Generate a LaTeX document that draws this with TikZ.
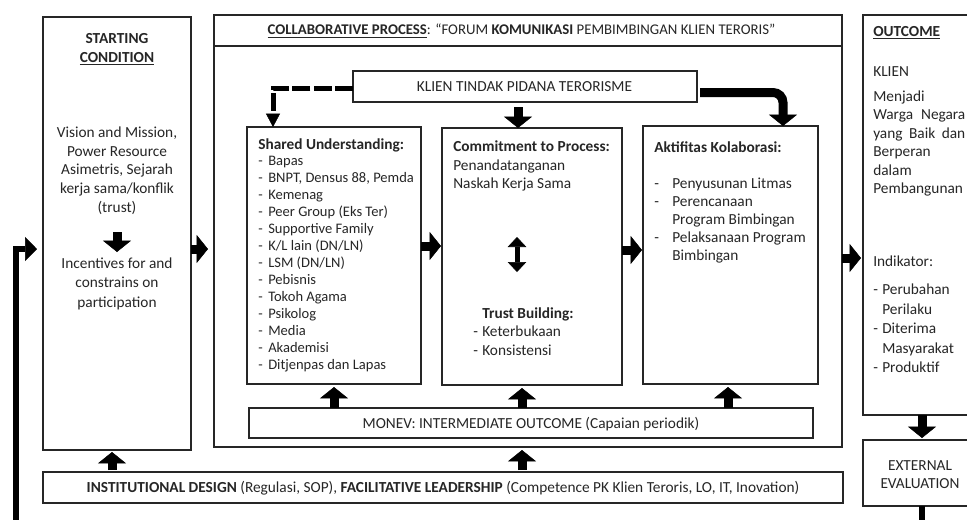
\documentclass[tikz,border=0pt]{standalone}
\usepackage{fontspec}
\setmainfont{Carlito}
\usetikzlibrary{arrows.meta,fit}
\newcommand{\fs}[1]{\fontsize{11.5}{#1}\selectfont}
\newcommand{\dsh}{\makebox[6.75pt][l]{-}}
\newcommand{\sdsh}{\makebox[7.5pt][l]{-}}
\newcommand{\tdsh}{\makebox[13.5pt][l]{-}}
\tikzset{
	box/.style={draw=black!85, line width=1.1pt, inner sep=0pt, outer sep=0pt},
	txt/.style={inner sep=0pt, text=black!85, font=\fs{13}},
	blk/.style={line width=6.75pt, -{Triangle[width=21pt,length=8.5pt,line width=0.4pt]}},
	dbl/.style={line width=3.75pt, {Triangle[width=14pt,length=7.5pt,line width=0.4pt]}-{Triangle[width=14pt,length=7.5pt,line width=0.4pt]}},
	dashblk/.style={line width=3.75pt, dash pattern=on 13.5pt off 2.5pt, -{Triangle[width=10.5pt,length=10pt,line width=0.4pt]}},
	fb/.style={line width=4.5pt}
}
\begin{document}
\begin{tikzpicture}[x=0.75pt,y=-0.75pt]
	\useasboundingbox (0,0) rectangle (967,519);
	\clip (0,0) rectangle (967,519);
	\fill[white] (0,0) rectangle (967,519);
	\node[box,fit={(43,17) (191,450)}] (start) {};
	\node[box,fit={(214,15) (842,447)}] (collab) {};
	\node[box,fit={(214,15) (842,46)}] (chead) {};
	\node[box,fit={(353,71) (697,102)}] (klien) {};
	\node[box,fit={(247,127) (421,384)}] (shared) {};
	\node[box,fit={(442,128) (622,385)}] (commit) {};
	\node[box,fit={(643,126) (818,384)}] (aktif) {};
	\node[box,fit={(249,408) (813,438)}] (monev) {};
	\node[box,fit={(43,472) (843,503)}] (inst) {};
	\node[box,fit={(863,15) (990,415)}] (outcome) {};
	\node[box,fit={(863,440) (990,506)}] (exteval) {};

	\node[txt,anchor=north,align=center,font={\fs{13.8}\bfseries}] (sctitle) at (117,33.5) {STARTING\\\underline{CONDITION}};
	\node[txt,anchor=north,align=center,font=\fs{14}] (scdesc) at (117,126.5) {Vision and Mission,\\Power Resource\\Asimetris, Sejarah\\kerja sama/konflik\\(trust)};
	\node[txt,anchor=north,align=center,font=\fs{14.6}] (scinc) at (117,257.5) {Incentives for and\\constrains on\\participation};
	\coordinate (scA) at (117,232);
	\coordinate (scB) at (117,252);

	\node[txt,font=\fontsize{11.1}{13}\selectfont] (chtitle) at (521.5,31) {\underline{\textbf{COLLABORATIVE PROCESS}}: “FORUM \textbf{KOMUNIKASI} PEMBIMBINGAN KLIEN TERORIS”};
	\node[txt] (kltxt) at (524.5,86.5) {KLIEN TINDAK PIDANA TERORISME};
	\node[txt,anchor=north west,align=left,font=\fontsize{10.9}{12.8}\selectfont] (sharedtxt) at (258,138.5) {{\fs{12.8}\textbf{Shared Understanding:}}\\[-1.2pt]
		\sdsh Bapas\\\sdsh BNPT, Densus 88, Pemda\\\sdsh Kemenag\\\sdsh Peer Group (Eks Ter)\\\sdsh Supportive Family\\
		\sdsh K/L lain (DN/LN)\\\sdsh LSM (DN/LN)\\\sdsh Pebisnis\\\sdsh Tokoh Agama\\\sdsh Psikolog\\\sdsh Media\\
		\sdsh Akademisi\\\sdsh Ditjenpas dan Lapas};
	\node[txt,anchor=north west,align=left,font=\fs{13.9}] (committxt) at (453,140.5) {\textbf{Commitment to Process:}\\Penandatanganan\\Naskah Kerja Sama};
	\node[txt,anchor=north west,align=left,font=\fs{13.9}] (trusttxt) at (473,307) {\hspace{6.75pt}\textbf{Trust Building:}\\\dsh Keterbukaan\\\dsh Konsistensi};
	\coordinate (cpA) at (517,237);
	\coordinate (cpB) at (517,272);
	\node[txt,anchor=north west,align=left,font=\fs{13.5}] (aktiftxt) at (654,141.5) {\textbf{Aktifitas Kolaborasi:}\\[13.5pt]
		\tdsh Penyusunan Litmas\\\tdsh Perencanaan\\\hspace{13.5pt}Program Bimbingan\\\tdsh Pelaksanaan Program\\\hspace{13.5pt}Bimbingan};
	\node[txt] (monevtxt) at (531,424) {MONEV: INTERMEDIATE OUTCOME (Capaian periodik)};
	\node[txt] (insttxt) at (443,488) {\textbf{INSTITUTIONAL DESIGN} (Regulasi, SOP), \textbf{FACILITATIVE LEADERSHIP} (Competence PK Klien Teroris, LO, IT, Inovation)};

	\node[txt,anchor=base west,font={\fs{13}\bfseries}] (outtitle) at (873,36.5) {\underline{OUTCOME}};
	\node[txt,anchor=base west] (outklien) at (873,76.5) {KLIEN};
	\node[txt,anchor=north west,text width=69pt,align=justify,font=\fs{13.8}] (outdesc) at (873,90.5) {Menjadi\\Warga Negara\linebreak yang Baik dan\linebreak Berperan\\dalam\\Pembangunan};
	\node[txt,anchor=north west,align=left,font=\fs{14.6}] (outind) at (873,256) {Indikator:\\[6.4pt]\dsh Perubahan\\\hspace{6.75pt}Perilaku\\\dsh Diterima\\\hspace{6.75pt}Masyarakat\\\dsh Produktif};
	\node[txt,anchor=north,align=center,font=\fs{13.5}] (exttxt) at (920,460.5) {EXTERNAL\\EVALUATION};
	\coordinate (loopR) at (922,530);
	\coordinate (loopL) at (16,530);

	\draw[blk,shorten >=4.5pt] (start.east |- 0,249) -- (collab.west |- 0,249);
	\draw[blk,shorten >=0.75pt] (shared.east |- 0,246) -- (commit.west |- 0,246);
	\draw[blk,shorten >=0.75pt] (commit.east |- 0,250) -- (aktif.west |- 0,250);
	\draw[blk,shorten >=1.5pt] (collab.east |- 0,258) -- (outcome.west |- 0,258);
	\draw[blk,shorten <=3.75pt] (klien.south -| 518,0) -- (commit.north -| 518,0);
	\draw[blk,rounded corners=7.5pt,shorten <=2.25pt] (klien.east |- 0,92.5) -| (aktif.north -| 783,0);
	\draw[dashblk] (klien.west |- 0,88) -| (shared.north -| 273,0);
	\draw[blk,shorten >=2.25pt] (monev.north -| 334,0) -- (shared.south -| 334,0);
	\draw[blk,shorten >=2.25pt] (monev.north -| 522,0) -- (commit.south -| 522,0);
	\draw[blk,shorten >=2.25pt] (monev.north -| 728,0) -- (aktif.south -| 728,0);
	\draw[blk,shorten <=1.5pt,shorten >=1.5pt] (inst.north -| 112,0) -- (start.south -| 112,0);
	\draw[blk,shorten <=1.5pt,shorten >=2.25pt] (inst.north -| 522,0) -- (collab.south -| 522,0);
	\draw[blk,shorten >=1.5pt] (outcome.south -| 922,0) -- (exteval.north -| 922,0);
	\draw[blk] (scA) -- (scB);
	\draw[dbl] (cpA) -- (cpB);
	\draw[fb] (exteval.south -| 922,0) -- (loopR);
	\draw[fb,-{Triangle[width=18pt,length=9pt,line width=0.4pt]},shorten >=4.5pt] (loopL) |- (start.west |- 0,249);
\end{tikzpicture}
\end{document}
